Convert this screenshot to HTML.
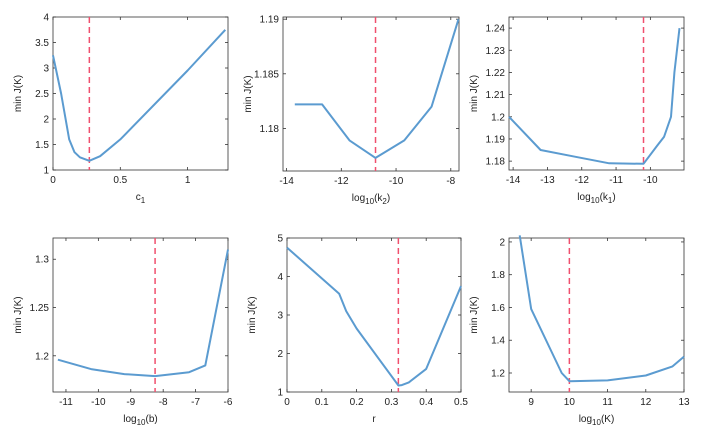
<!DOCTYPE html>
<html><head><meta charset="utf-8">
<style>
body{margin:0;background:#fff;}
svg{display:block;font-family:"Liberation Sans",sans-serif;}
text{font-size:10px;fill:#222;}
</style></head>
<body>
<svg id="fig" width="707" height="426"></svg>
<script>
const p1X=[0,0.06,0.12,0.16,0.2,0.27,0.35,0.5,1.0,1.28];
const p1Y=[3.25,2.5,1.6,1.35,1.25,1.18,1.27,1.6,2.95,3.75];
const p2X=[-13.7,-12.7,-11.7,-10.75,-9.7,-8.7,-7.72];
const p2Y=[1.1822,1.1822,1.1789,1.1773,1.1789,1.182,1.19];
const p3X=[-14.12,-13.2,-12.2,-11.2,-10.2,-9.8,-9.6,-9.4,-9.3,-9.15];
const p3Y=[1.2,1.185,1.182,1.179,1.1788,1.187,1.191,1.2,1.22,1.24];
const p4X=[-11.25,-10.2,-9.2,-8.25,-7.2,-6.7,-6];
const p4Y=[1.196,1.186,1.181,1.179,1.183,1.19,1.31];
const p5X=[0,0.15,0.17,0.2,0.32,0.33,0.35,0.4,0.5];
const p5Y=[4.75,3.55,3.1,2.65,1.17,1.18,1.25,1.6,3.75];
const p6X=[8.7,9,9.8,10,11,12,12.7,13];
const p6Y=[2.04,1.59,1.2,1.15,1.155,1.185,1.24,1.30];
const optima=[0.27,-10.75,-10.2,-8.25,0.32,10];
const p1XT=['0','0.5','1'],p1YT=['1','1.5','2','2.5','3','3.5','4'];
const p2XT=['-14','-12','-10','-8'],p2YT=['1.18','1.185','1.19'];
const p3XT=['-14','-13','-12','-11','-10'],p3YT=['1.18','1.19','1.2','1.21','1.22','1.23','1.24'];
const p4XT=['-11','-10','-9','-8','-7','-6'],p4YT=['1.2','1.25','1.3'];
const p5XT=['0','0.1','0.2','0.3','0.4','0.5'],p5YT=['1','2','3','4','5'];
const p6XT=['9','10','11','12','13'],p6YT=['1.2','1.4','1.6','1.8','2'];

const NS='http://www.w3.org/2000/svg';
const svg=document.getElementById('fig');
function el(t,a,parent){const e=document.createElementNS(NS,t);for(const k in a)e.setAttribute(k,a[k]);(parent||svg).appendChild(e);return e;}

const panels=[
 {x0:53,x1:228,y0:17,y1:170,xd:[0,1.3],yd:[1,4],X:p1X,Y:p1Y,xt:p1XT,yt:p1YT,xl:['c','1',''],name:'c1'},
 {x0:283,x1:459,y0:17,y1:171,xd:[-14.13,-7.7],yd:[1.1761,1.1902],X:p2X,Y:p2Y,xt:p2XT,yt:p2YT,xl:['log','10','(k','2',')'],name:'k2'},
 {x0:509,x1:684,y0:17,y1:170,xd:[-14.12,-9.02],yd:[1.176,1.245],X:p3X,Y:p3Y,xt:p3XT,yt:p3YT,xl:['log','10','(k','1',')'],name:'k1'},
 {x0:53,x1:228,y0:238,y1:392,xd:[-11.4,-6],yd:[1.1625,1.322],X:p4X,Y:p4Y,xt:p4XT,yt:p4YT,xl:['log','10','(b)'],name:'b'},
 {x0:287,x1:461,y0:238,y1:392,xd:[0,0.5],yd:[1,5],X:p5X,Y:p5Y,xt:p5XT,yt:p5YT,xl:['r'],name:'r'},
 {x0:509,x1:684,y0:238,y1:392,xd:[8.42,13],yd:[1.084,2.024],X:p6X,Y:p6Y,xt:p6XT,yt:p6YT,xl:['log','10','(K)'],name:'K'}
];
panels.forEach((p,i)=>{
 const g=el('g',{});
 
 
 const sx=v=>p.x0+(v-p.xd[0])/(p.xd[1]-p.xd[0])*(p.x1-p.x0);
 const sy=v=>p.y1-(v-p.yd[0])/(p.yd[1]-p.yd[0])*(p.y1-p.y0);
 const box=el('rect',{x:p.x0,y:p.y0,width:p.x1-p.x0,height:p.y1-p.y0,fill:'none',stroke:'#333','stroke-width':0.8},g);
 
 
 p.xt.forEach(t=>{const x=sx(+t);
  el('line',{x1:x,x2:x,y1:p.y1,y2:p.y1-3,stroke:'#333','stroke-width':0.8},g);
  el('line',{x1:x,x2:x,y1:p.y0,y2:p.y0+3,stroke:'#333','stroke-width':0.8},g);
  const tx=el('text',{x:x,y:p.y1+13,'text-anchor':'middle'},g);tx.textContent=t;
  
  
 });
 p.yt.forEach(t=>{const y=sy(+t);
  el('line',{x1:p.x0,x2:p.x0+3,y1:y,y2:y,stroke:'#333','stroke-width':0.8},g);
  el('line',{x1:p.x1,x2:p.x1-3,y1:y,y2:y,stroke:'#333','stroke-width':0.8},g);
  const ty=el('text',{x:p.x0-4,y:y+3.5,'text-anchor':'end'},g);ty.textContent=t;
  
  
 });
 const ox=sx(optima[i]);
 const opt=el('line',{x1:ox,x2:ox,y1:p.y0,y2:p.y1,stroke:'#f0506e','stroke-width':1.5,'stroke-dasharray':'6,4'},g);
 
 
 const pts=p.X.map((v,k)=>sx(v).toFixed(1)+','+sy(p.Y[k]).toFixed(1)).join(' ');
 const ln=el('polyline',{points:pts,fill:'none',stroke:'#5b9bd0','stroke-width':2,'stroke-linejoin':'round'},g);
 
 
 const yl=el('text',{transform:`translate(${p.x0-32},${(p.y0+p.y1)/2}) rotate(-90)`,'text-anchor':'middle','font-size':'11'},g);
 yl.textContent='min J(K)';
 
 
 const xl=el('text',{x:(p.x0+p.x1)/2,y:p.y1+30,'text-anchor':'middle','font-size':'11'},g);
 
 
 p.xl.forEach((s,k)=>{const ts=el('tspan',{},xl);ts.textContent=s;
  if(k%2==1){ts.setAttribute('baseline-shift','-3');ts.setAttribute('font-size','8');}
 });
});
</script>
</body></html>
